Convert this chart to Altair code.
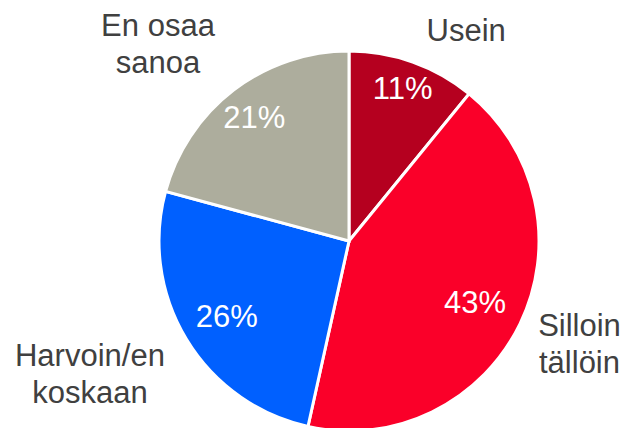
import math
import altair as alt
import pandas as pd

categories = ["Usein", "Silloin tällöin", "Harvoin/en koskaan", "En osaa sanoa"]
display_labels = ["Usein", "Silloin\ntällöin", "Harvoin/en\nkoskaan", "En osaa\nsanoa"]
values = [11, 43, 26, 21]
colors = ["#B5001F", "#FA0029", "#0060FF", "#ADAD9D"]

df = pd.DataFrame({
    "idx": list(range(len(categories))),
    "category": categories,
    "display": display_labels,
    "value": values,
})

total = sum(values)
FONT = "Liberation Sans"
CX, CY = 341, 233
R = 190

theta_scale = alt.Scale(domain=[0, total], range=[0, 2 * math.pi])

base = (
    alt.Chart(df)
    .transform_window(cum="sum(value)", sort=[alt.SortField("idx")], frame=[None, 0])
    .transform_calculate(
        start="datum.cum - datum.value",
        mid="datum.cum - datum.value / 2",
        pct="datum.value + '%'",
    )
)

arcs = base.mark_arc(outerRadius=R, stroke="white", strokeWidth=3).encode(
    theta=alt.Theta("start:Q", scale=theta_scale),
    theta2="cum:Q",
    color=alt.Color("category:N", scale=alt.Scale(domain=categories, range=colors), legend=None),
    x=alt.value(CX),
    y=alt.value(CY),
)

# styling per label: (percent radius, percent dy, outer radius, dx, dy)
label_style = {
    "Usein": (160, 0, 230, 40, 8),
    "Silloin tällöin": (140, 2, 255, 1, -25),
    "Harvoin/en koskaan": (143, 3, 290, -11, -34),
    "En osaa sanoa": (156, 2, 260, -33, -8),
}

layers = [arcs]
for cat in categories:
    pr, pdy, orad, dx, dy = label_style[cat]
    f = base.transform_filter(alt.datum.category == cat)
    layers.append(
        f.mark_text(radius=pr, fontSize=31, font=FONT, color="white",
                    align="center", baseline="middle", dy=pdy).encode(
            theta=alt.Theta("mid:Q", scale=theta_scale),
            text="pct:N",
            x=alt.value(CX),
            y=alt.value(CY),
        )
    )
    layers.append(
        f.mark_text(radius=orad, fontSize=31, font=FONT, color="#404040",
                    align="center", baseline="middle", lineBreak="\n",
                    lineHeight=37, dx=dx, dy=dy).encode(
            theta=alt.Theta("mid:Q", scale=theta_scale),
            text="display:N",
            x=alt.value(CX),
            y=alt.value(CY),
        )
    )

chart = (
    alt.layer(*layers)
    .properties(width=614, height=420, autosize="none", padding=0, background="white")
    .configure_view(stroke=None)
)

chart.save("out.html", embed_options={"renderer": "svg", "actions": False})
